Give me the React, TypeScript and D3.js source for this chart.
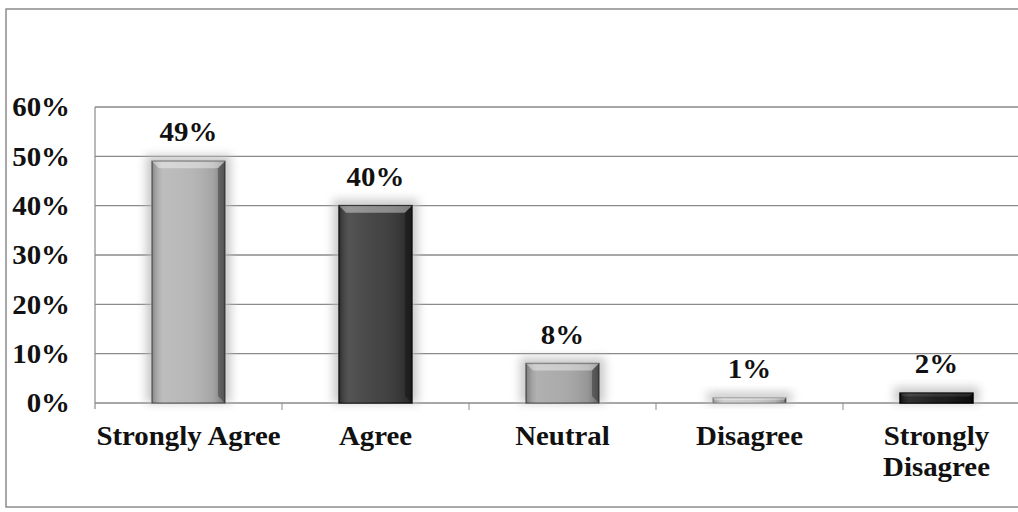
import * as d3 from "d3";

// survey responses
const categories = ["Strongly Agree", "Agree", "Neutral", "Disagree", "Strongly Disagree"];
const values = [49, 40, 8, 1, 2];
const yTicks = [0, 10, 20, 30, 40, 50, 60];
// each bar has its own grey in the scan
const barFills = ["#b4b4b4", "#3c3c3c", "#a6a6a6", "#c9c9c9", "#141414"];
const barEdges = ["#6e6e6e", "#1a1a1a", "#666666", "#9a9a9a", "#000000"];

const W = 1018;
const H = 512;
const FONT = "'Liberation Serif', 'Times New Roman', serif";
const SX = 1.07; // the scan is a little stretched sideways

function Label(props: { x: number; y: number; anchor: string; dy?: string; children: any }) {
  return (
    <text
      transform={`translate(${props.x},${props.y}) scale(${SX},1)`}
      dy={props.dy}
      textAnchor={props.anchor}
      fontSize={27}
      fontWeight="bold"
      fill="#111"
    >
      {props.children}
    </text>
  );
}

export default function App() {
  const margin = { left: 95, top: 107, bottom: 403 };
  const x = d3
    .scaleBand<string>()
    .domain(categories)
    .range([margin.left, margin.left + 187 * categories.length])
    .padding(0);
  const y = d3.scaleLinear().domain([0, 60]).range([margin.bottom, margin.top]);
  const barW = x.bandwidth() * 0.39;

  return (
    <svg
      width={W}
      height={H}
      style={{ position: "absolute", left: 0, top: 0, background: "#fff" }}
      fontFamily={FONT}
    >
      <defs>
        <filter id="glow" x="-50%" y="-50%" width="200%" height="200%">
          <feGaussianBlur stdDeviation="5" />
        </filter>
        <linearGradient id="shine" x1="0" x2="1" y1="0" y2="0">
          <stop offset="0" stopColor="#000" stopOpacity="0.25" />
          <stop offset="0.15" stopColor="#fff" stopOpacity="0.12" />
          <stop offset="0.5" stopColor="#fff" stopOpacity="0.05" />
          <stop offset="0.85" stopColor="#000" stopOpacity="0.1" />
          <stop offset="1" stopColor="#000" stopOpacity="0.35" />
        </linearGradient>
      </defs>

      {/* outer frame */}
      <rect x={6} y={9} width={1030} height={498} fill="none" stroke="#8c8c8c" strokeWidth={1.5} />

      {/* gridlines */}
      {yTicks.map((t) => (
        <line
          key={t}
          x1={margin.left}
          x2={W}
          y1={y(t)}
          y2={y(t)}
          stroke="#8a8a8a"
          strokeWidth={1.3}
        />
      ))}
      {/* y axis line */}
      <line x1={margin.left} x2={margin.left} y1={margin.top} y2={margin.bottom + 6} stroke="#8a8a8a" strokeWidth={1.2} />
      {/* x ticks at category boundaries */}
      {categories.map((c) => (
        <line
          key={c}
          x1={(x(c) ?? 0) + x.bandwidth()}
          x2={(x(c) ?? 0) + x.bandwidth()}
          y1={margin.bottom}
          y2={margin.bottom + 7}
          stroke="#8a8a8a"
          strokeWidth={1}
        />
      ))}

      {/* y tick labels */}
      {yTicks.map((t) => (
        <Label key={t} x={70} y={y(t)} dy="0.35em" anchor="end">
          {t}%
        </Label>
      ))}

      {/* bars */}
      {categories.map((c, i) => {
        const cx = (x(c) ?? 0) + x.bandwidth() / 2;
        const x0 = cx - barW / 2;
        const top = y(values[i]);
        const h = y(0) - top;
        const b = Math.min(7, h / 3);
        return (
          <g key={c}>
            <rect x={x0 - 6} y={top - 6} width={barW + 12} height={h + 6} fill="#b8b8b8" opacity={0.75} filter="url(#glow)" />
            <rect x={x0} y={top} width={barW} height={h} fill={barFills[i]} stroke={barEdges[i]} strokeWidth={1.5} />
            <rect x={x0} y={top} width={barW} height={h} fill="url(#shine)" />
            {/* bevel top face */}
            <polygon
              points={`${x0},${top} ${x0 + barW},${top} ${x0 + barW - b},${top + b} ${x0 + b},${top + b}`}
              fill="#fff"
              opacity={i === 4 ? 0.1 : 0.4}
            />
            {/* bevel right face */}
            <polygon
              points={`${x0 + barW},${top} ${x0 + barW},${top + h} ${x0 + barW - b},${top + h - b} ${x0 + barW - b},${top + b}`}
              fill="#000"
              opacity={0.3}
            />
            <Label x={cx} y={top - 20} anchor="middle">
              {values[i]}%
            </Label>
          </g>
        );
      })}

      {/* category labels, the last one wraps onto two lines */}
      {categories.map((c, i) => {
        const cx = (x(c) ?? 0) + x.bandwidth() / 2;
        const lines = i === categories.length - 1 ? c.split(" ") : [c];
        return (
          <g key={c}>
            {lines.map((l, j) => (
              <Label key={l} x={cx} y={445 + j * 31} anchor="middle">
                {l}
              </Label>
            ))}
          </g>
        );
      })}
    </svg>
  );
}
